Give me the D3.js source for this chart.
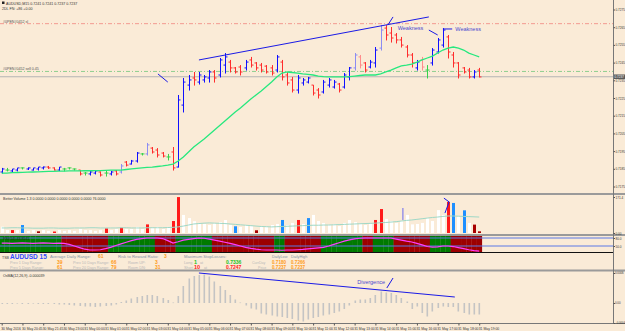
<!DOCTYPE html>
<html>
<head>
<meta charset="utf-8">
<script src="https://cdn.jsdelivr.net/npm/d3@7"></script>
<style>
  body { margin: 0; background: #FAEBD7; }
  svg { display: block; font-family: "Liberation Sans", Arial, sans-serif; }
</style>
</head>
<body>
<div id="chart"></div>
<script>
// ---- data ----
var timeLabels = ["30 May 2016","30 May 20:45","30 May 21:45","30 May 23:00",
  "31 May 00:00","31 May 01:00","31 May 02:00","31 May 03:00","31 May 04:00","31 May 05:00",
  "31 May 06:00","31 May 07:00","31 May 08:00","31 May 09:00","31 May 10:00","31 May 11:00",
  "31 May 12:00","31 May 13:00","31 May 14:00","31 May 15:00","31 May 16:00","31 May 17:00",
  "31 May 18:00","31 May 19:00"];

// open, high, low, close
var ohlc = [
 [.71832,.71855,.71826,.71849],[.71843,.71855,.71838,.71843],[.71838,.71849,.71832,.71849],[.71843,.71855,.71838,.71855],
 [.71855,.71858,.71849,.71855],[.71849,.71858,.71846,.71855],[.71843,.71855,.71843,.71855],[.71849,.7186,.71843,.7186],
 [.71855,.71863,.71849,.7186],[.7186,.71866,.71852,.71855],[.71855,.71858,.71843,.71843],[.71843,.7186,.7184,.7186],
 [.71849,.71855,.71838,.71849],[.71855,.71858,.71849,.71855],[.71849,.71852,.71843,.71849],[.71843,.71843,.71815,.71821],
 [.71826,.71832,.71815,.71826],[.71821,.71838,.71815,.71832],[.71826,.71843,.71821,.71838],[.71832,.71835,.71809,.71815],
 [.71826,.71843,.71809,.71826],[.71821,.71838,.71815,.71832],[.71838,.71843,.71815,.71821],[.71832,.71877,.71826,.71866],
 [.71888,.71894,.71866,.71871],[.71877,.719,.71877,.71894],[.71894,.71945,.71888,.71939],[.71934,.71939,.71928,.71934],
 [.71934,.71996,.71928,.71985],[.71967,.71973,.71939,.71945],[.71956,.71967,.71917,.71928],[.71939,.71945,.71917,.71922],
 [.71917,.71934,.719,.71917],[.71945,.71973,.71843,.71855],[.7186,.72267,.7186,.72239],[.7221,.72363,.72171,.7234],
 [.72323,.7238,.72295,.72352],[.72363,.72397,.72323,.72352],[.7234,.72397,.72329,.7238],[.72352,.7238,.7234,.72369],
 [.72363,.72408,.7234,.72397],[.72397,.72408,.7234,.72363],[.7238,.72476,.72369,.72465],[.72436,.72504,.72391,.72482],
 [.72453,.72465,.72397,.7242],[.7242,.72425,.72391,.72397],[.72425,.72436,.7238,.72397],[.7242,.72465,.72408,.72453],
 [.72465,.72482,.72425,.72436],[.72448,.72453,.72408,.7242],[.72436,.72448,.72397,.72408],[.7243,.72436,.72391,.72397],
 [.7242,.72436,.7238,.72391],[.72408,.72493,.72397,.72482],[.72453,.72465,.72352,.72369],[.7238,.72397,.72323,.72335],
 [.72352,.72369,.72284,.72295],[.72295,.7238,.72278,.72363],[.72335,.72363,.72323,.72352],[.7234,.72369,.72335,.72363],
 [.72323,.72323,.72267,.72278],[.72295,.72306,.7225,.72267],[.72284,.72352,.72278,.7234],[.72323,.72363,.72312,.72352],
 [.72312,.72352,.72306,.7234],[.72329,.72335,.72284,.72295],[.72312,.72391,.72306,.7238],[.72369,.72425,.72352,.7242],
 [.7242,.72504,.72408,.72493],[.72482,.72493,.7242,.72436],[.72448,.72453,.72397,.72408],[.72425,.72465,.7242,.72453],
 [.72448,.72538,.72425,.72521],[.72532,.72662,.72521,.72634],[.72645,.72662,.72578,.72606],[.72617,.72651,.72566,.72589],
 [.72606,.72617,.72561,.72578],[.72578,.72595,.72538,.72549],[.72538,.72549,.72482,.72493],[.72493,.72504,.72425,.72448],
 [.7242,.72465,.72408,.72453],[.72465,.72482,.72408,.72425],[.72408,.72436,.72363,.72408],[.72448,.72532,.72436,.72521],
 [.7251,.72589,.72504,.72578],[.72549,.72645,.72538,.72634],[.72595,.72606,.72476,.7251],[.72493,.7251,.72425,.72448],
 [.72448,.72453,.72363,.7238],[.7242,.72425,.72391,.72397],[.72408,.7242,.72363,.72369],[.72369,.72408,.72363,.72397],
 [.72408,.7242,.72369,.72369]
];
// bar colour class: u up, d down, U weak up, D weak down, g neutral
var barKind = ("uguuguuuud" + "dugggdguud" + "gudUduugUd" + "ddgduuuduu" + "uduudddudd" +
               "ddduddduuu" + "dduuuduuUD" + "duuUdddddd" + "uDguuudddd" + "dud").split("");

var maLine = [.71826,.71826,.71828,.71829,.7183,.71831,.71832,.71833,.71834,.71835,.71836,.71837,.71837,.71838,.71838,
 .71838,.71839,.71839,.7184,.7184,.71841,.71842,.71843,.71843,.71846,.71849,.71852,.71855,.71858,.7186,.71863,.71866,
 .71871,.71877,.71894,.71917,.71945,.71973,.71996,.72018,.72044,.72069,.72095,.7212,.72146,.72171,.72194,.72219,.72244,
 .72267,.7229,.72315,.7234,.72369,.72391,.72397,.72394,.72391,.72386,.72383,.7238,.72374,.72371,.72369,.72369,.72369,
 .72369,.72371,.72374,.72377,.7238,.7238,.7238,.72386,.72397,.72408,.7242,.72431,.72436,.72442,.72453,.72465,.72476,
 .72487,.72504,.72521,.72532,.72538,.72532,.72521,.72504,.72493,.72482];

var slPrice = 0.7267, openPrice = 0.7240, bidPrice = 0.7237;
var priceTicks = [0.7175,0.7185,0.7195,0.7205,0.7215,0.7225,0.7235,0.7245,0.7255,0.7265,0.7275];

var volume = [30,14,14,14,38,10,14,8,14,10, 7,14,10,14,10,19,14,14,10,14, 22,14,19,25,19,19,29,19,41,24,
 29,19,29,57,171,86,71,56,48,43, 38,46,52,62,38,32,29,38,33,13, 33,29,38,43,62,38,48,62,43,71,
 86,57,48,38,43,33,48,62,52,43, 38,43,62,114,67,57,48,57,86,41, 43,48,71,57,109,86,148,143,79,108, 48,40,8];
var volKind = ("wwrwbwwkww" + "rwwwwwwwww" + "rwwrwwwwrw" + "wwwrrwwwww" + "wwwwwbwwwk" +
               "wwwwbwwrwb" + "wwwwwwwwww" + "wwrrwwwwww" + "wwwwwwrbwb" + "wkk").split("");
var volAvg = [24,24,25,25,24,24,23,23,23,24,24,23,23,23,24,24,24,25,25,24,24,24,24,25,25,24,24,24,25,25,25,
 25,26,27,29,33,38,43,45,47,48,47,46,45,43,41,39,37,35,33,31,30,29,30,31,32,33,34,35,36,37,37,38,38,39,40,41,
 42,43,44,45,46,47,49,50,52,54,57,60,62,65,68,71,74,76,79,81,81,80,79,78,77,76];

var trendState = ("GGGGGGGGGGGG" + "RRRRRRRRR" + "GGGGGGGGG" + "RRRR" + "GGGGGGG" + "RRRRRRRRRRRR" + "GG" +
                  "RRRRRRR" + "GGGGGGGG" + "RR" + "GGGG" + "RRRRRRR" + "GGGG" + "RRRRRR").split("");
var rsiLine = [61,61,60,61,62,61,60,61,62,61,60,61,60, 56,50,44,38,35,35,36,40,45,52,58,64,70,75,78,80,80,80,78,70,
 61,66,72,75,78,80,79,76,72,68,64,60,55,50,45,41,38,36,35,35,35,34, 35,35,36,37,39,41,43,45,50,56,62,68,73,77,79,
 80,80,80,80,80,80,76,72,68,65,60,54,48,46,47,50,50,48,44,40,36,33,31];
var rsiLevels = [80, 50];

var osma = [-0.00002,-0.00002,-0.00002,-0.00001,-0.00002,-0.00002,-0.00001,-0.00002,-0.00002,-0.00002,-0.00002,
 -0.00003,-0.00003,-0.00004,-0.00005,-0.00006,-0.00007,-0.00007,-0.00008,-0.00007,-0.00006,-0.00005,-0.00003,
 0.00002,0.00005,0.00009,0.00012,0.00014,0.00016,0.00016,0.00014,0.0001,0.00006,0.00001,0.00014,0.00034,0.00049,
 0.00054,0.00056,0.00057,0.00053, 0.00043,0.00034,0.00026,0.00016,0.00007,0.00001,-0.00005,-0.00011,-0.00013,
 -0.00021,-0.00023,-0.00025,-0.00027,-0.00028,-0.0003,-0.00032,-0.00035,-0.00037,-0.00033,-0.0003,-0.00028,
 -0.00025,-0.00023,-0.0002,-0.00017,-0.00012,-0.00005,0.00005,0.00007,0.00007,0.0001,0.00016,0.00023,0.00021,
 0.0002,0.00016,0.0001,0.00003, -0.00012,-0.00007,-0.0002,-0.00027,-0.00017,-0.0001,-0.00007,-0.00008,-0.00008,
 -0.00017,-0.0002,-0.00023,-0.00023,-0.00023];

// hand drawn objects on the chart: [bar index, value]
var trendTop = [[38, 0.72465], [82.3, 0.72708]];
var markLine = [[30.1, 0.72386], [32, 0.7234]];
var weak1 = [[74.4, 0.72662], [75.4, 0.72708]];
var weak2 = [[82.3, 0.72634], [84, 0.72606]];
var weak2Cap = [[85, 0.7264], [86.8, 0.7264]];
var volMark = [[85.2, 166], [86.2, 148], [85.4, 95]];
var volMark2 = [[77.3, 119], [77.3, 62]];
var divLine = [[38, 0.0006], [87.3, 0.00012]];
var divTick = [[74.2, 0.0003], [75.4, 0.0005]];

// ---- layout ----
var W = 625, H = 331, axisX = 613;
var N = ohlc.length;

var svg = d3.select("#chart").append("svg")
    .attr("width", W)
    .attr("height", H);

svg.append("rect").attr("width", W).attr("height", H).attr("fill", "#FAEBD7");

var x = d3.scaleLinear().domain([-0.5, N - 0.5]).range([-0.9, 481.8]);
var bw = x(1) - x(0);
var yP = d3.scaleLinear().domain([0.7175, 0.7275]).range([186.5, 9.5]);
var yV = d3.scaleLinear().domain([0, 171.4]).range([233, 197]);
var yR = d3.scaleLinear().domain([50, 80]).range([246, 238]);
var yO = d3.scaleLinear().domain([-0.0004, 0.0006]).range([323, 273]);

var pline = function(sc) {
  return d3.line().x(function(d){ return x(d[0]); }).y(function(d){ return sc(d[1]); });
};

// ---- price panel ----
var main = svg.append("g");

main.append("line").attr("x1", 0).attr("x2", axisX).attr("y1", yP(slPrice)).attr("y2", yP(slPrice))
    .attr("stroke", "#f29a90").attr("stroke-dasharray", "4,2,1,2");
main.append("line").attr("x1", 0).attr("x2", axisX).attr("y1", yP(openPrice)).attr("y2", yP(openPrice))
    .attr("stroke", "#8fcf8f").attr("stroke-dasharray", "4,2,1,2");
main.append("line").attr("x1", 0).attr("x2", axisX).attr("y1", yP(bidPrice)).attr("y2", yP(bidPrice))
    .attr("stroke", "#b4b4b4");

main.append("text").attr("x", 3).attr("y", yP(slPrice) - 1).text("#0PEN#0452 sl")
    .style("font-size", "3.6px").attr("fill", "#555");
main.append("text").attr("x", 3).attr("y", yP(openPrice) - 1).text("#0PEN#0452 sell 0.45")
    .style("font-size", "3.6px").attr("fill", "#555");

var kindColor = { u: "#1010ff", d: "#ff2d2d", U: "#8c8cf2", D: "#ff8c8c", g: "#36d24a" };

var bars = main.append("g").selectAll("g")
    .data(ohlc)
    .enter()
    .append("g")
    .attr("stroke", function(d, i){ return kindColor[barKind[i]]; })
    .attr("stroke-width", 1);

bars.append("line")
    .attr("x1", function(d, i){ return Math.round(x(i)) + 0.5; })
    .attr("x2", function(d, i){ return Math.round(x(i)) + 0.5; })
    .attr("y1", function(d){ return yP(d[1]); })
    .attr("y2", function(d){ return yP(d[2]) + 0.5; });
bars.append("line")
    .attr("x1", function(d, i){ return Math.round(x(i)) - 1.5; })
    .attr("x2", function(d, i){ return Math.round(x(i)) + 0.5; })
    .attr("y1", function(d){ return yP(d[0]); })
    .attr("y2", function(d){ return yP(d[0]); });
bars.append("line")
    .attr("x1", function(d, i){ return Math.round(x(i)) + 0.5; })
    .attr("x2", function(d, i){ return Math.round(x(i)) + 2.5; })
    .attr("y1", function(d){ return yP(d[3]); })
    .attr("y2", function(d){ return yP(d[3]); });

main.append("path")
    .datum(maLine)
    .attr("fill", "none")
    .attr("stroke", "#27e87e")
    .attr("stroke-width", 1.3)
    .attr("d", d3.line().x(function(d, i){ return x(i); }).y(function(d){ return yP(d); }));

[trendTop, markLine, weak1, weak2, weak2Cap].forEach(function(seg) {
  main.append("path").datum(seg).attr("fill", "none").attr("stroke", "#1a1ae6")
      .attr("stroke-width", 1).attr("d", pline(yP));
});
main.append("text").attr("x", x(76.3)).attr("y", yP(0.72634)).text("Weakness")
    .style("font-size", "5.5px").attr("fill", "#4a4ad0");
main.append("text").attr("x", x(87.4)).attr("y", yP(0.72628)).text("Weakness")
    .style("font-size", "5.5px").attr("fill", "#4a4ad0");

main.append("rect").attr("x", 2).attr("y", 1.5).attr("width", 2.5).attr("height", 2.5).attr("fill", "#222");
main.append("text").attr("x", 6).attr("y", 4.5).text("AUDUSD,M15  0.7241 0.7241 0.7237 0.7237")
    .style("font-size", "3.6px").attr("fill", "#333");
main.append("text").attr("x", 2).attr("y", 10).text("2DL     FN: +86     +0.00")
    .style("font-size", "3.6px").attr("fill", "#333");

// ---- volume panel ----
var vol = svg.append("g");
var volColor = { w: "#ffffff", r: "#ff1a1a", b: "#1e8fff", k: "#a80000" };
vol.append("g").selectAll("rect")
    .data(volume)
    .enter()
    .append("rect")
    .attr("x", function(d, i){ return Math.round(x(i)) - 1; })
    .attr("width", 3)
    .attr("y", function(d){ return yV(d); })
    .attr("height", function(d){ return yV(0) - yV(d); })
    .attr("fill", function(d, i){ return volColor[volKind[i]]; });
vol.append("path")
    .datum(volAvg)
    .attr("fill", "none")
    .attr("stroke", "#9fd8c6")
    .attr("stroke-width", 1)
    .attr("d", d3.line().x(function(d, i){ return x(i); }).y(function(d){ return yV(d); }));
[volMark, volMark2].forEach(function(seg, k) {
  vol.append("path").datum(seg).attr("fill", "none").attr("stroke", k ? "#6a6af0" : "#1a1ae6")
      .attr("stroke-width", 1).attr("d", pline(yV));
});
vol.append("text").attr("x", 3).attr("y", 199.5)
    .text("Better Volume 1.3  0.0000  0.0000  0.0000  0.0000  0.0000  76.0000")
    .style("font-size", "3.6px").attr("fill", "#333");

// ---- trend / oscillator strip ----
var rsi = svg.append("g");
rsi.append("g").selectAll("rect")
    .data(trendState)
    .enter()
    .append("rect")
    .attr("x", function(d, i){ return x(i - 0.5); })
    .attr("width", bw + 0.3)
    .attr("y", 236)
    .attr("height", 16)
    .attr("fill", function(d){ return d === "G" ? "#007a00" : "#9c0000"; });
rsi.selectAll(".lvl")
    .data(rsiLevels)
    .enter()
    .append("line")
    .attr("x1", 0).attr("x2", axisX)
    .attr("y1", function(d){ return yR(d); })
    .attr("y2", function(d){ return yR(d); })
    .attr("stroke", "#5a78e6")
    .attr("stroke-width", 1);
rsi.append("path")
    .datum(rsiLine)
    .attr("fill", "none")
    .attr("stroke", "#ff3cff")
    .attr("stroke-width", 1.2)
    .attr("d", d3.line().x(function(d, i){ return x(i); }).y(function(d){ return yR(d); }));
rsi.append("line").attr("x1", 0).attr("x2", axisX).attr("y1", 252.5).attr("y2", 252.5)
    .attr("stroke", "#111").attr("stroke-width", 1);
rsi.append("text").attr("x", 3).attr("y", 240).text("RSI(14) 43.8141")
    .style("font-size", "3.6px").attr("fill", "#222");

// ---- info panel ----
var info = svg.append("g");
function label(tx, px, py, col, size, weight) {
  info.append("text").attr("x", px).attr("y", py).text(tx)
      .attr("fill", col).style("font-size", size || "3.8px").style("font-weight", weight || "normal");
}
var gLab = "#8494a8", gSoft = "#b8b8b8", org = "#ff9a1a";
label("TSB", 2, 258.5, "#444", "3.6px");
label("AUDUSD 15", 10, 259, "#2f4cff", "6.5px", "bold");
label("Average Daily Range:", 50, 258, gLab, "4.2px");
label("61", 98, 258, org, "5px", "bold");
label("Risk to Reward Ratio:", 118, 258, gLab, "4.2px");
label("3", 164, 258, org, "5px", "bold");
label("Maximum StopLosses:", 184, 258, gLab, "4.2px");
label("DailyLow", 272, 258, gLab, "3.8px");
label("DailyHigh", 291, 258, gLab, "3.8px");
label("Prev 1 Day Range:", 10, 263.5, gSoft);
label("39", 57, 263.5, org, "5px", "bold");
label("Prev 10 Days Range:", 73, 263.5, gSoft);
label("66", 111, 263.5, org, "5px", "bold");
label("Room UP:", 128, 263.5, gSoft);
label("3", 155, 263.5, org, "5px", "bold");
label("Long", 184, 263.5, gSoft);
label("1", 194, 263.8, "#22c222", "5.5px", "bold");
label("at", 200, 263.5, gSoft);
label("0.7336", 226, 263.5, "#22c222", "5px", "bold");
label("CurrDay", 252, 263.5, gSoft, "3.6px");
label("0.7180", 272, 263.5, org, "4.6px", "bold");
label("0.7266", 291, 263.5, org, "4.6px", "bold");
label("Prev 5 Days Range:", 10, 268.5, gSoft);
label("61", 57, 268.5, org, "5px", "bold");
label("Prev 20 Days Range:", 73, 268.5, gSoft);
label("79", 111, 268.5, org, "5px", "bold");
label("Room DN:", 128, 268.5, gSoft);
label("31", 155, 268.5, org, "5px", "bold");
label("Short", 184, 268.5, gSoft);
label("10", 194, 268.8, "#ff2020", "5.5px", "bold");
label("at", 204, 268.5, gSoft);
label("0.7247", 226, 268.5, "#ff2020", "5px", "bold");
label("Price", 258, 268.5, gSoft, "3.6px");
label("0.7237", 272, 268.5, org, "4.6px", "bold");
label("0.7237", 291, 268.5, org, "4.6px", "bold");

// ---- OsMA panel ----
var os = svg.append("g");
os.append("g").selectAll("rect")
    .data(osma)
    .enter()
    .append("rect")
    .attr("x", function(d, i){ return Math.round(x(i)) - 0.5; })
    .attr("width", 1.6)
    .attr("y", function(d){ return Math.min(yO(d), yO(0)); })
    .attr("height", function(d){ return Math.max(0.6, Math.abs(yO(d) - yO(0))); })
    .attr("fill", "#c4c4c4");
[divLine, divTick].forEach(function(seg) {
  os.append("path").datum(seg).attr("fill", "none").attr("stroke", "#1a1ae6")
      .attr("stroke-width", 1).attr("d", pline(yO));
});
os.append("text").attr("x", x(68.5)).attr("y", yO(0.00038)).text("Divergence")
    .style("font-size", "5.5px").attr("fill", "#4a4ad0");
os.append("text").attr("x", 3).attr("y", 277).text("OsMA(12,26,9) -0.000039")
    .style("font-size", "3.6px").attr("fill", "#333");

// ---- separators and right axis ----
[194, 235, 270.5].forEach(function(yy) {
  svg.append("line").attr("x1", 0).attr("x2", W).attr("y1", yy).attr("y2", yy)
     .attr("stroke", "#9a9a9a").attr("stroke-width", 2);
});
svg.append("line").attr("x1", 0).attr("x2", W).attr("y1", 323.5).attr("y2", 323.5)
   .attr("stroke", "#777").attr("stroke-width", 1);
svg.append("line").attr("x1", axisX + 0.5).attr("x2", axisX + 0.5).attr("y1", 0).attr("y2", 323.5)
   .attr("stroke", "#777").attr("stroke-width", 1);

var axP = svg.append("g").attr("transform", "translate(" + (axisX + 0.5) + ",0)")
    .call(d3.axisRight(yP).tickValues(priceTicks).tickSize(1.5).tickFormat(d3.format(".4f")));
var axV = svg.append("g").attr("transform", "translate(" + (axisX + 0.5) + ",0)")
    .call(d3.axisRight(yV).tickValues([0, 171.4]).tickSize(1.5).tickFormat(function(d){ return d ? "171.4" : "0.00"; }));
var axR = svg.append("g").attr("transform", "translate(" + (axisX + 0.5) + ",0)")
    .call(d3.axisRight(yR).tickValues(rsiLevels).tickSize(1.5).tickFormat(d3.format(".1f")));
var axO = svg.append("g").attr("transform", "translate(" + (axisX + 0.5) + ",0)")
    .call(d3.axisRight(yO).tickValues([0.0006, 0, -0.0004]).tickSize(1.5)
      .tickFormat(function(d){ return d === 0 ? "0.00" : d3.format(".4f")(d); }));

var axT = svg.append("g").attr("transform", "translate(0,323.5)")
    .call(d3.axisBottom(x).tickValues(d3.range(0, N, 4)).tickSize(2)
      .tickFormat(function(d){ return timeLabels[d / 4]; }));
axT.selectAll("text").attr("text-anchor", "start").attr("dx", "-1px").attr("dy", "0.3em");

[axP, axV, axR, axO, axT].forEach(function(a) {
  a.select(".domain").remove();
  a.selectAll("text").style("font-size", "3.4px").attr("fill", "#333");
  a.selectAll("line").attr("stroke", "#555");
});
[axP, axV, axR].forEach(function(a) {
  a.selectAll("text").attr("x", 2).style("font-size", "3.1px");
});
axO.selectAll("text").attr("x", 1.5).style("font-size", "2.8px");

svg.append("rect").attr("x", axisX + 1).attr("y", yP(bidPrice) - 2.3).attr("width", 11).attr("height", 4.6)
   .attr("fill", "#5a5a5a");
svg.append("text").attr("x", axisX + 1.5).attr("y", yP(bidPrice) + 1.2).text(d3.format(".4f")(bidPrice))
   .attr("fill", "#fff").style("font-size", "3.1px");
</script>
</body>
</html>
